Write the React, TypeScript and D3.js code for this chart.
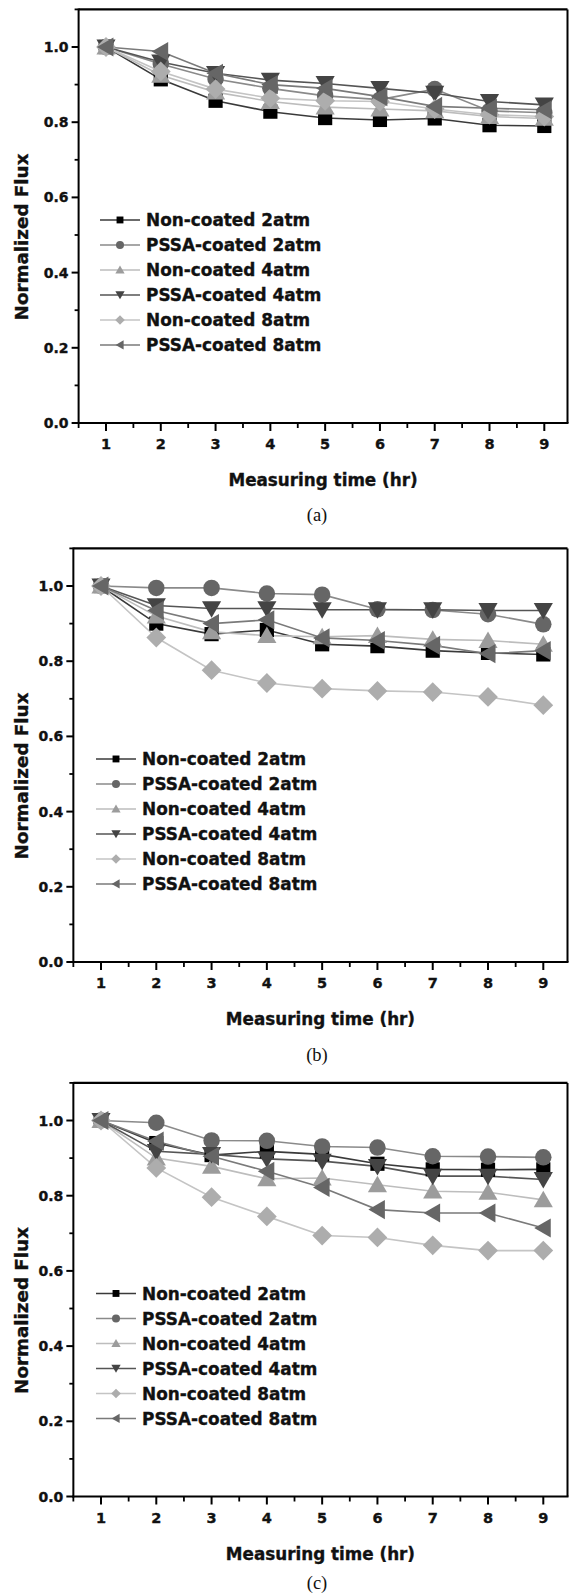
import React from "react";
import * as d3 from "d3";

const hours = [1, 2, 3, 4, 5, 6, 7, 8, 9];
const seriesNames = [
  "Non-coated 2atm",
  "PSSA-coated 2atm",
  "Non-coated 4atm",
  "PSSA-coated 4atm",
  "Non-coated 8atm",
  "PSSA-coated 8atm",
];
const yTicks = [0, 0.2, 0.4, 0.6, 0.8, 1.0];
const panelLabels = ["(a)", "(b)", "(c)"];

// panel (a)
const aNc2 = [1, 0.914, 0.857, 0.828, 0.811, 0.806, 0.81, 0.792, 0.79];
const aPc2 = [1, 0.955, 0.915, 0.89, 0.87, 0.86, 0.888, 0.83, 0.825];
const aNc4 = [1, 0.925, 0.88, 0.855, 0.84, 0.835, 0.83, 0.815, 0.81];
const aPc4 = [1, 0.96, 0.93, 0.912, 0.903, 0.89, 0.877, 0.855, 0.846];
const aNc8 = [1, 0.935, 0.888, 0.864, 0.857, 0.855, 0.835, 0.82, 0.815];
const aPc8 = [1, 0.988, 0.93, 0.9, 0.89, 0.868, 0.842, 0.837, 0.833];

// panel (b)
const bNc2 = [1, 0.9, 0.872, 0.883, 0.845, 0.84, 0.828, 0.822, 0.818];
const bPc2 = [1, 0.995, 0.995, 0.98, 0.977, 0.938, 0.936, 0.925, 0.898];
const bNc4 = [1, 0.92, 0.878, 0.868, 0.865, 0.868, 0.858, 0.855, 0.845];
const bPc4 = [1, 0.948, 0.94, 0.94, 0.937, 0.937, 0.937, 0.935, 0.935];
const bNc8 = [1, 0.863, 0.776, 0.742, 0.727, 0.721, 0.718, 0.705, 0.683];
const bPc8 = [1, 0.935, 0.9, 0.91, 0.862, 0.855, 0.842, 0.82, 0.828];

// panel (c)
const cNc2 = [1, 0.94, 0.908, 0.918, 0.91, 0.885, 0.87, 0.869, 0.87];
const cPc2 = [1, 0.994, 0.947, 0.946, 0.931, 0.928, 0.905, 0.904, 0.902];
const cNc4 = [1, 0.9, 0.878, 0.845, 0.847, 0.829, 0.812, 0.809, 0.789];
const cPc4 = [1, 0.918, 0.91, 0.898, 0.892, 0.878, 0.852, 0.852, 0.843];
const cNc8 = [1, 0.874, 0.796, 0.745, 0.694, 0.689, 0.668, 0.654, 0.654];
const cPc8 = [1, 0.945, 0.905, 0.865, 0.822, 0.763, 0.754, 0.754, 0.714];

const panelData = [
  [aNc2, aPc2, aNc4, aPc4, aNc8, aPc8],
  [bNc2, bPc2, bNc4, bPc4, bNc8, bPc8],
  [cNc2, cPc2, cNc4, cPc4, cNc8, cPc8],
];

const markerKinds = ["square", "circle", "up", "down", "diamond", "left"];
const fillColors = ["#000000", "#666666", "#9c9c9c", "#444444", "#adadad", "#666666"];
const lineColors = ["#3a3a3a", "#8a8a8a", "#bdbdbd", "#555555", "#c4c4c4", "#7a7a7a"];

const FONT = "'DejaVu Sans', Verdana, sans-serif";

function markerPath(kind: string, s: number): string {
  const p = d3.path();
  if (kind === "square") {
    p.rect(-s * 0.43, -s * 0.43, s * 0.86, s * 0.86);
  } else if (kind === "circle") {
    p.arc(0, 0, s * 0.5, 0, Math.PI * 2);
  } else if (kind === "up") {
    p.moveTo(0, -s * 0.55);
    p.lineTo(s * 0.58, s * 0.45);
    p.lineTo(-s * 0.58, s * 0.45);
    p.closePath();
  } else if (kind === "down") {
    p.moveTo(0, s * 0.55);
    p.lineTo(s * 0.58, -s * 0.45);
    p.lineTo(-s * 0.58, -s * 0.45);
    p.closePath();
  } else if (kind === "diamond") {
    p.moveTo(0, -s * 0.6);
    p.lineTo(s * 0.6, 0);
    p.lineTo(0, s * 0.6);
    p.lineTo(-s * 0.6, 0);
    p.closePath();
  } else {
    p.moveTo(-s * 0.55, 0);
    p.lineTo(s * 0.45, -s * 0.58);
    p.lineTo(s * 0.45, s * 0.58);
    p.closePath();
  }
  return p.toString();
}

type Layout = { x1: number; x9: number; y0: number; right: number; legendX: number; labelY: number };

const layouts: Layout[] = [
  { x1: 106, x9: 544.3, y0: 423, right: 567.5, legendX: 100, labelY: 515 },
  { x1: 101, x9: 543.3, y0: 962, right: 567.5, legendX: 96, labelY: 1055 },
  { x1: 101, x9: 543.3, y0: 1496.5, right: 567.5, legendX: 96, labelY: 1583 },
];

function Panel({ idx }: { idx: number }) {
  const L = layouts[idx];
  const x = d3.scaleLinear().domain([1, 9]).range([L.x1, L.x9]);
  const y = d3.scaleLinear().domain([0, 1]).range([L.y0, L.y0 - 376]);
  const left = x(0.5);
  const top = y(1.1);
  const bottom = y(0);
  const line = d3
    .line<number>()
    .x((_, i) => x(hours[i]))
    .y((v) => y(v));
  const minorY = d3.range(0.1, 1.15, 0.2);
  const minorX = d3.range(0.5, 9.6, 1).filter((v) => x(v) < L.right);
  const data = panelData[idx];
  const legendRowY = (i: number) => y(0.54) + i * 25;
  const heavy = { stroke: "#111", strokeWidth: 0.35 };
  return (
    <g>
      {data.map((vals, si) => (
        <path key={"l" + si} d={line(vals) || ""} fill="none" stroke={lineColors[si]} strokeWidth={1.6} />
      ))}
      {data.map((vals, si) => (
        <g key={"m" + si}>
          {vals.map((v, i) => (
            <path
              key={i}
              transform={`translate(${x(hours[i])},${y(v)})`}
              d={markerPath(markerKinds[si], 16.5)}
              fill={fillColors[si]}
            />
          ))}
        </g>
      ))}
      <line x1={left} x2={L.right} y1={top} y2={top} stroke="#000" strokeWidth={2.4} />
      <line x1={L.right} x2={L.right} y1={top} y2={bottom} stroke="#000" strokeWidth={2} />
      <line x1={left} x2={left} y1={top - 1} y2={bottom + 1} stroke="#000" strokeWidth={2} />
      <line x1={left - 1} x2={L.right + 1} y1={bottom} y2={bottom} stroke="#000" strokeWidth={2} />
      {yTicks.map((t) => (
        <g key={"yt" + t}>
          <line x1={left - 7} x2={left} y1={y(t)} y2={y(t)} stroke="#000" strokeWidth={2} />
          <text
            x={left - 10}
            y={y(t)}
            dy="0.36em"
            textAnchor="end"
            fontFamily={FONT}
            fontWeight="bold"
            fontSize={14}
            fill="#111"
            {...heavy}
          >
            {d3.format(".1f")(t)}
          </text>
        </g>
      ))}
      {minorY.map((t) => (
        <line key={"ym" + t} x1={left - 4} x2={left} y1={y(t)} y2={y(t)} stroke="#000" strokeWidth={1.8} />
      ))}
      {hours.map((h) => (
        <g key={"xt" + h}>
          <line x1={x(h)} x2={x(h)} y1={bottom} y2={bottom + 8} stroke="#000" strokeWidth={2} />
          <text
            x={x(h)}
            y={bottom + 21}
            dy="0.36em"
            textAnchor="middle"
            fontFamily={FONT}
            fontWeight="bold"
            fontSize={14.5}
            fill="#111"
            {...heavy}
          >
            {h}
          </text>
        </g>
      ))}
      {minorX.map((t) => (
        <line key={"xm" + t} x1={x(t)} x2={x(t)} y1={bottom} y2={bottom + 5} stroke="#000" strokeWidth={1.8} />
      ))}
      <text
        x={(left + L.right) / 2}
        y={bottom + 57}
        dy="0.36em"
        textAnchor="middle"
        fontFamily={FONT}
        fontWeight="bold"
        fontSize={16.8}
        fill="#111"
        {...heavy}
      >
        Measuring time (hr)
      </text>
      <text
        transform={`translate(21,${y(0.5) + 2}) rotate(-90)`}
        dy="0.36em"
        textAnchor="middle"
        fontFamily={FONT}
        fontWeight="bold"
        fontSize={18.3}
        fill="#111"
        {...heavy}
      >
        Normalized Flux
      </text>
      {seriesNames.map((name, si) => (
        <g key={"lg" + si}>
          <line
            x1={L.legendX}
            x2={L.legendX + 40}
            y1={legendRowY(si)}
            y2={legendRowY(si)}
            stroke={lineColors[si]}
            strokeWidth={1.6}
          />
          <path
            transform={`translate(${L.legendX + 20},${legendRowY(si)})`}
            d={markerPath(markerKinds[si], 8)}
            fill={fillColors[si]}
          />
          <text
            x={L.legendX + 46}
            y={legendRowY(si)}
            dy="0.36em"
            fontFamily={FONT}
            fontWeight="bold"
            fontSize={16.9}
            fill="#111"
            {...heavy}
          >
            {name}
          </text>
        </g>
      ))}
      <text
        x={317}
        y={L.labelY}
        dy="0.35em"
        textAnchor="middle"
        fontFamily="'Liberation Serif', 'Times New Roman', serif"
        fontSize={18.5}
        fill="#111"
      >
        {panelLabels[idx]}
      </text>
    </g>
  );
}

export default function App() {
  return (
    <svg
      width={570}
      height={1595}
      viewBox="0 0 570 1595"
      style={{ position: "absolute", left: 0, top: 0, background: "#fff" }}
    >
      <rect x={0} y={0} width={570} height={1595} fill="#fff" />
      {[0, 1, 2].map((i) => (
        <Panel key={i} idx={i} />
      ))}
    </svg>
  );
}
